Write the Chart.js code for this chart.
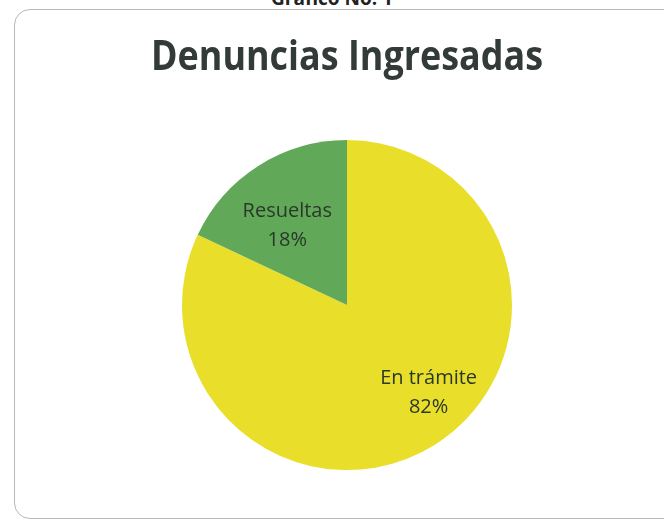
<!DOCTYPE html>
<html>
<head>
<meta charset="utf-8">
<script src="https://cdn.jsdelivr.net/npm/chart.js@4.4.1/dist/chart.umd.min.js"></script>
<style>
  html, body { margin: 0; padding: 0; background: #ffffff; overflow: hidden; }
  #wrap { position: relative; width: 664px; height: 520px; }
  #frame { position: absolute; left: 14px; top: 9px; width: 670px; height: 510px;
           border: 1px solid #b8b8b8; border-radius: 16px; box-sizing: border-box; }
  #caption { position: absolute; left: 0; width: 664px; top: -15px; text-align: center;
             font: bold 19px "Open Sans", "Liberation Sans", sans-serif; color: #222; }
  canvas { position: absolute; left: 0; top: 0; }
</style>
</head>
<body>
<div id="wrap">
  <div id="frame"></div>
  <div id="caption">Gráfico No. 1</div>
  <canvas id="c" width="664" height="520"></canvas>
</div>
<script>
const chartTitle = "Denuncias Ingresadas";
const categories = ["En trámite", "Resueltas"];
const values = [82, 18];
const percentLabels = ["82%", "18%"];
const sliceColors = ["#E9DF2B", "#62A859"];

// label placement per slice: fraction of radius, angular offset (deg)
const labelPlacement = [
  { frac: 0.72, dAngle: -11 },
  { frac: 0.61, dAngle: -4 }
];

const sliceLabels = {
  id: "sliceLabels",
  afterDatasetsDraw(chart) {
    const ctx = chart.ctx;
    const meta = chart.getDatasetMeta(0);
    ctx.save();
    ctx.font = "20px 'Open Sans', 'Liberation Sans', sans-serif";
    ctx.fillStyle = "#2a382a";
    ctx.textAlign = "center";
    ctx.textBaseline = "alphabetic";
    meta.data.forEach((arc, i) => {
      const p = arc.getProps(["x", "y", "startAngle", "endAngle", "outerRadius"], true);
      const mid = (p.startAngle + p.endAngle) / 2 + labelPlacement[i].dAngle * Math.PI / 180;
      const r = p.outerRadius * labelPlacement[i].frac;
      const x = p.x + Math.cos(mid) * r;
      const y = p.y + Math.sin(mid) * r;
      ctx.fillText(categories[i], x, y - 7);
      ctx.fillText(percentLabels[i], x, y + 22);
    });
    ctx.restore();
  }
};

new Chart(document.getElementById("c"), {
  type: "pie",
  data: {
    labels: categories,
    datasets: [{
      data: values,
      backgroundColor: sliceColors,
      borderWidth: 0
    }]
  },
  options: {
    responsive: false,
    animation: false,
    radius: 165,
    layout: { padding: { left: 151, right: 121, top: 0, bottom: 50 } },
    plugins: {
      legend: { display: false },
      tooltip: { enabled: false },
      title: {
        display: true,
        text: chartTitle,
        color: "#333b38",
        font: { family: "'Open Sans', 'Liberation Sans', sans-serif", size: 41, weight: "bold", lineHeight: 1.2 },
        padding: { top: 34, bottom: 57 }
      }
    }
  },
  plugins: [sliceLabels]
});
</script>
</body>
</html>
